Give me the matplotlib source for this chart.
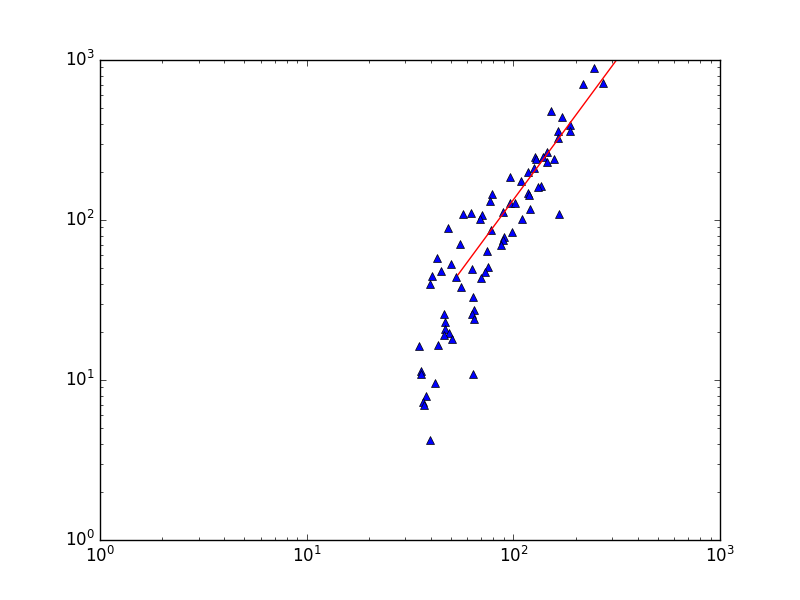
import matplotlib
matplotlib.use("Agg")
import matplotlib.pyplot as plt
import numpy as np

plt.style.use("classic")

x_vals = [246, 217.6, 272, 152.2, 172, 189, 164, 188.2, 164, 127.3,
          145.6, 139.2, 158, 128.3, 145, 126, 117.8, 96, 108.5, 135.7,
          131, 117.8, 119, 79.1, 77.4, 96.7, 101.5, 88.8, 120.4, 57,
          62.3, 70.5, 68.9, 109.7, 166.4, 48.2, 77.9, 98.2, 90.1, 88.8,
          86.8, 55.1, 74.5, 42.7, 49.9, 44.6, 63, 75.4, 73.2, 69.7,
          40.3, 52.7, 39.4, 55.7, 63.7, 64.2, 63.3, 64.5, 46.1, 46.6,
          46.5, 48.8, 46.1, 50.4, 34.9, 43.1, 35.7, 35.7, 63.7, 41.7,
          37.7, 36.5, 36.9, 39.4]
y_vals = [887, 708, 715, 480, 438, 392, 360, 358, 324, 249,
          267, 246.5, 239.5, 240.5, 230, 210.5, 200, 185, 176, 163,
          160.8, 148, 143.3, 144.7, 131.5, 128.3, 127, 111.7, 116.7, 108.5,
          111, 107.5, 101.4, 101.9, 108.5, 89.5, 87, 84.5, 78.6, 75,
          69.5, 70.5, 63.6, 58.1, 52.9, 48.2, 49.6, 51.1, 47.3, 43.6,
          44.7, 44.2, 39.6, 38.3, 33.0, 27.4, 25.9, 24.1, 25.9, 23.1,
          20.7, 19.6, 19.1, 18.1, 16.4, 16.6, 11.4, 10.9, 10.9, 9.6,
          8.0, 7.3, 6.95, 4.2]

fit_coef = 0.0423
fit_exp = 1.75
fit_x_range = [54, 400]

fig = plt.figure(figsize=(8, 6), dpi=100, facecolor="white")
ax = fig.add_axes([0.125, 0.1, 0.775, 0.8])
ax.set_facecolor("white")

ax.plot(x_vals, y_vals, "b^", markersize=6, markeredgecolor="black", markeredgewidth=0.5)
fx = np.array(fit_x_range, dtype=float)
ax.plot(fx, fit_coef * fx ** fit_exp, "r-", linewidth=1)

ax.set_xscale("log")
ax.set_yscale("log")
ax.set_xlim(1, 1000)
ax.set_ylim(1, 1000)

fig.savefig("out.png", dpi=100, facecolor="white")
